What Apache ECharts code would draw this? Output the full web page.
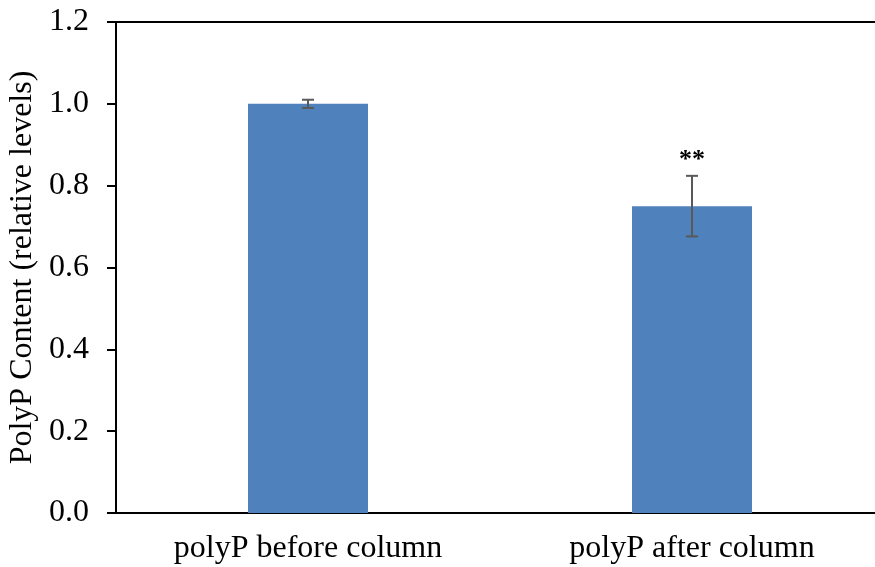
<!DOCTYPE html>
<html>
<head>
<meta charset="utf-8">
<script src="https://cdn.jsdelivr.net/npm/echarts@6/dist/echarts.min.js"></script>
<style>
html, body { margin: 0; padding: 0; background: #fff; }
#chart { width: 875px; height: 567px; }
</style>
</head>
<body>
<div id="chart"></div>
<script>
var categories = ['polyP before column', 'polyP after column'];
var values = [1.0, 0.75];
var errors = [0.01, 0.074];
var sigMarks = ['', '**'];

var myChart = echarts.init(document.getElementById('chart'));

var font = 'Liberation Serif';

option = {
    animation: false,
    grid: { left: 116, top: 22, width: 768, bottom: 54, outerBoundsMode: 'none', containLabel: false },
    xAxis: [
        {
            type: 'category',
            data: categories,
            axisLine: { lineStyle: { color: '#000', width: 2 } },
            axisTick: { length: 9, lineStyle: { color: '#000', width: 2 } },
            axisLabel: { color: '#000', fontFamily: font, fontSize: 32, margin: 20 }
        },
        {
            type: 'category',
            position: 'top',
            data: categories,
            axisLine: { lineStyle: { color: '#000', width: 2 } },
            axisTick: { show: false },
            axisLabel: { show: false }
        }
    ],
    yAxis: {
        type: 'value',
        min: 0,
        max: 1.2,
        interval: 0.2,
        name: 'PolyP Content (relative levels)',
        nameLocation: 'middle',
        nameGap: 72,
        nameTextStyle: { color: '#000', fontFamily: font, fontSize: 32 },
        axisLine: { show: true, lineStyle: { color: '#000', width: 2 } },
        axisTick: { show: true, length: 9, lineStyle: { color: '#000', width: 2 } },
        splitLine: { show: false },
        axisLabel: {
            color: '#000', fontFamily: font, fontSize: 32, margin: 27,
            formatter: function (v) { return v.toFixed(1); }
        }
    },
    series: [
        {
            type: 'bar',
            data: values,
            barWidth: 120,
            itemStyle: { color: '#4F81BD' }
        },
        {
            type: 'custom',
            data: values.map(function (v, i) { return [i, v, errors[i]]; }),
            z: 10,
            renderItem: function (params, api) {
                var i = api.value(0);
                var v = api.value(1);
                var e = api.value(2);
                var hi = api.coord([i, v + e]);
                var lo = api.coord([i, v - e]);
                var x = hi[0];
                var cap = 6;
                var style = { stroke: '#595959', lineWidth: 2 };
                var children = [
                    { type: 'line', shape: { x1: x, y1: hi[1], x2: x, y2: lo[1] }, style: style },
                    { type: 'line', shape: { x1: x - cap, y1: hi[1], x2: x + cap, y2: hi[1] }, style: style },
                    { type: 'line', shape: { x1: x - cap, y1: lo[1], x2: x + cap, y2: lo[1] }, style: style }
                ];
                if (sigMarks[i]) {
                    children.push({
                        type: 'text',
                        style: {
                            text: sigMarks[i], x: x, y: hi[1] - 16,
                            align: 'center', verticalAlign: 'middle',
                            fill: '#000', font: 'bold 26px ' + font
                        }
                    });
                }
                return { type: 'group', children: children };
            }
        }
    ]
};

myChart.setOption(option);
</script>
</body>
</html>
